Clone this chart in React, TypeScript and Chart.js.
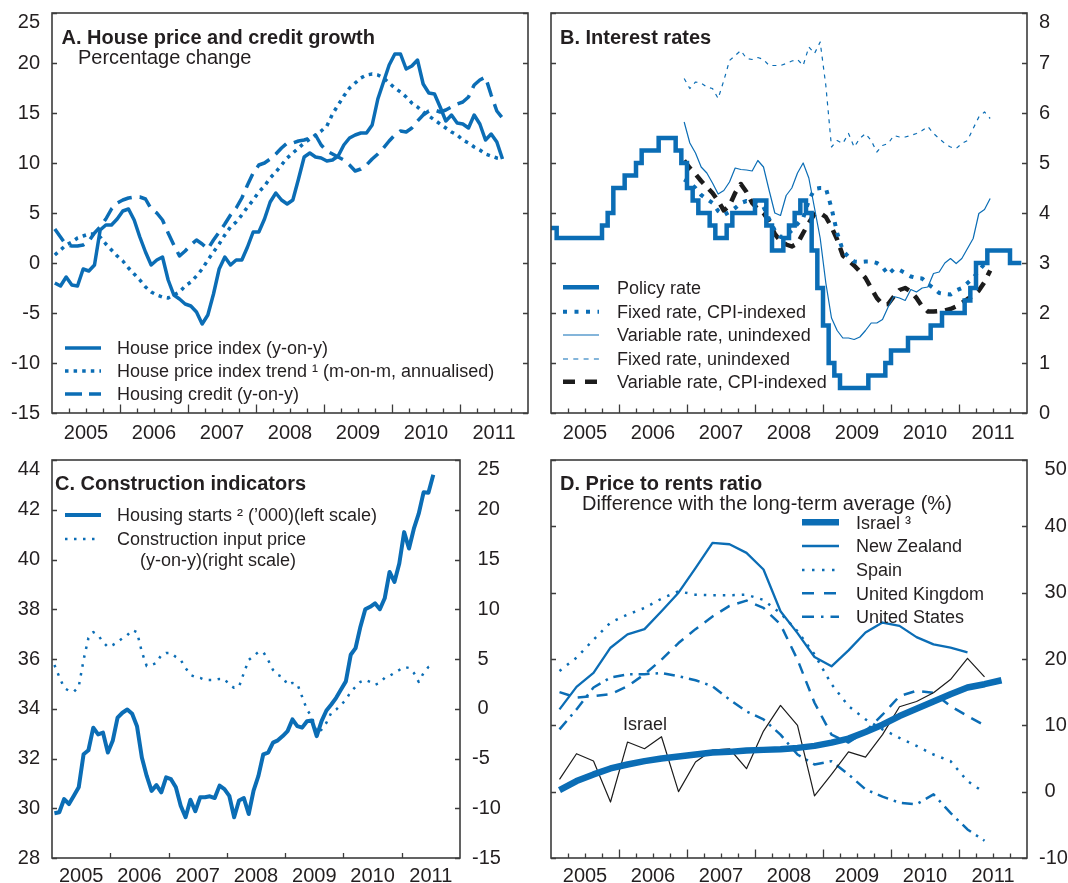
import React, { useEffect, useRef } from 'react';
import { Chart, registerables } from 'chart.js';

Chart.register(...registerables);

const BLUE = '#0b6db5';
const INK = '#231f20';
const FRAME = '#3c3c3c';
const FONT = '"Liberation Sans", Arial, Helvetica, sans-serif';

const YEARS = [2005, 2006, 2007, 2008, 2009, 2010, 2011];
const X_MIN = 2005;
const X_MAX = 2012;

// ---------- Panel A: monthly, Jan 2005 - Aug 2011 ----------
const housePriceYoY = [
  -2, -2.3, -1.4, -2.2, -2.3, -0.6, -0.8, -0.2, 3.3, 3.8, 3.8, 4.4,
  5.2, 5.4, 4.3, 2.6, 1.1, -0.2, 0.3, 0.6, -1.7, -3.2, -3.6, -4.1,
  -4.3, -4.9, -6.1, -5.2, -3.1, -0.6, 0.6, -0.2, 0.3, 0.3, 1.6, 3.1,
  3.1, 4.4, 6.1, 7, 6.3, 5.9, 6.3, 8.4, 10.6, 11, 10.6, 10.5,
  10.2, 10.3, 10.7, 11.8, 12.5, 12.8, 13, 13, 13.8, 16.4, 18.1, 19.8,
  20.9, 20.9, 19.4, 19.7, 20.3, 17.9, 17, 16.9, 15.6, 14.2, 14.8, 14,
  13.9, 13.5, 14.8, 13.9, 12.3, 12.9, 12.1, 10.4,
];
const housePriceTrend = [
  0.8, 1.3, 1.8, 2.1, 2.5, 2.7, 2.9, 2.9, 2.6, 1.9, 1.3, 0.7,
  0.2, -0.5, -1.1, -1.7, -2.4, -2.9, -3.2, -3.4, -3.5, -3.2, -2.9, -2.3,
  -1.9, -1.3, -0.6, 0.3, 1.1, 1.9, 2.8, 3.6, 4.1, 4.8, 5.6, 6.3,
  7.1, 7.7, 8.5, 9.1, 9.8, 10.5, 11, 11.5, 12, 12.4, 12.8, 13.2,
  13.7, 14.9, 15.8, 16.7, 17.5, 18, 18.5, 18.8, 18.9, 18.8, 18.5, 18,
  17.5, 17.1, 16.6, 16, 15.6, 15.1, 14.7, 14.3, 13.9, 13.5, 13.1, 12.8,
  12.3, 12, 11.6, 11.3, 10.9, 10.7, 10.5, 10.4,
];
const housingCredit = [
  3.4, 2.6, 1.8, 1.7, 1.7, 1.8, 2.2, 3.0, 3.6, 4.4, 5.4, 6.0,
  6.3, 6.5, 6.6, 6.6, 6.4, 5.4, 5.0, 4.3, 3.0, 1.8, 0.7, 1.2,
  1.8, 2.3, 1.9, 1.4, 2.3, 3.1, 3.9, 4.8, 5.5, 6.5, 7.8, 9.0,
  9.8, 10.0, 10.4, 10.9, 11.5, 12.0, 12.0, 12.2, 12.3, 12.5, 12.8, 11.8,
  11.2, 10.9, 10.6, 10.3, 9.8, 9.2, 9.4, 9.8, 10.4, 10.9, 11.5, 12.2,
  12.8, 13.2, 13.1, 13.5, 14.2, 14.8, 15.2, 15.3, 15.1, 15.3, 15.6, 15.9,
  16.1, 16.6, 17.8, 18.3, 18.6, 16.8, 15.2, 14.5,
];

// ---------- Panel B: interest rates ----------
// policy rate: value set at the start of each month from Jan 2005 (last entry closes the step)
const policyRate = [
  3.7, 3.5, 3.5, 3.5, 3.5, 3.5, 3.5, 3.5, 3.5, 3.75, 4.0, 4.5,
  4.5, 4.75, 4.75, 5.0, 5.25, 5.25, 5.25, 5.5, 5.5, 5.5, 5.25, 5.0,
  4.5, 4.25, 4.0, 4.0, 3.75, 3.5, 3.5, 3.75, 4.0, 4.0, 4.0, 4.0,
  4.25, 4.25, 3.75, 3.25, 3.25, 3.5, 3.75, 4.0, 4.25, 4.0, 3.25, 2.5,
  1.75, 1.0, 0.75, 0.5, 0.5, 0.5, 0.5, 0.5, 0.75, 0.75, 0.75, 1.0,
  1.25, 1.25, 1.25, 1.5, 1.5, 1.5, 1.5, 1.75, 1.75, 2.0, 2.0, 2.0,
  2.0, 2.25, 2.5, 3.0, 3.0, 3.25, 3.25, 3.25, 3.25, 3.0, 3.0, 3.0,
];
const mortgageStartMonth = 23; // Dec 2006
const fixedCpiIndexed = [
  4.67, 4.6, 4.5, 4.36, 4.28, 4.2, 4.04, 3.96, 4.02, 4.1,
  4.2, 4.24, 4.22, 4.19, 4.12, 3.88, 3.65, 3.52, 3.55, 3.65,
  3.78, 3.9, 4.25, 4.48, 4.5, 4.5, 4.1, 3.6, 3.25, 3.12,
  3.03, 3.02, 3.03, 3.03, 3.0, 2.92, 2.77, 2.88, 2.86, 2.8,
  2.73, 2.7, 2.69, 2.58, 2.5, 2.4, 2.38, 2.37, 2.45, 2.5,
  2.6, 2.7, 2.85, 2.98,
];
const variableUnindexed = [
  5.82, 5.4, 5.2, 4.92, 4.8, 4.6, 4.38, 4.45, 4.62, 4.9,
  4.87, 4.86, 4.84, 5.05, 4.92, 4.45, 4.0, 3.95, 4.35, 4.5,
  4.8, 5.0, 4.7, 4.1, 3.5, 2.6, 1.9, 1.65, 1.5, 1.5,
  1.47, 1.52, 1.65, 1.8, 1.8, 1.87, 2.12, 2.33, 2.3, 2.25,
  2.47, 2.42, 2.5, 2.52, 2.79, 2.82, 3.0, 3.09, 2.99, 3.09,
  3.29, 3.49, 3.99, 4.07, 4.29,
];
const fixedUnindexed = [
  6.69, 6.49, 6.62, 6.6, 6.52, 6.49, 6.29, 6.65, 7.05, 7.15,
  7.25, 7.09, 7.07, 7.11, 7.07, 6.95, 6.95, 6.95, 6.99, 7.04,
  7.07, 6.95, 7.32, 7.19, 7.42, 6.55, 5.32, 5.45, 5.39, 5.59,
  5.32, 5.49, 5.59, 5.45, 5.22, 5.35, 5.39, 5.55, 5.52, 5.52,
  5.55, 5.59, 5.65, 5.73, 5.59, 5.49, 5.39, 5.32, 5.29, 5.39,
  5.45, 5.69, 5.92, 6.02, 5.89,
];
const variableCpiIndexed = [
  5.05, 4.9, 4.78, 4.64, 4.52, 4.4, 4.24, 4.05, 4.15, 4.4,
  4.58, 4.42, 4.2, 4.08, 4.0, 3.83, 3.58, 3.44, 3.37, 3.33,
  3.39, 3.6, 3.8, 3.98, 4.0, 3.92, 3.72, 3.47, 3.15, 3.05,
  2.95, 2.83, 2.7, 2.5, 2.3, 2.17, 2.18, 2.33, 2.46, 2.5,
  2.43, 2.3, 2.13, 2.03, 2.03, 2.04, 2.05, 2.08, 2.13, 2.2,
  2.28, 2.35, 2.45, 2.62, 2.85,
];

// ---------- Panel C: construction, monthly Jan 2005 - Jul 2011 ----------
const housingStarts = [
  29.8, 29.84, 30.37, 30.17, 30.5, 30.84, 32.17, 32.33, 33.24, 32.97, 33.04, 32.24,
  32.71, 33.64, 33.84, 33.97, 33.8, 33.3, 32.04, 31.3, 30.7, 30.93, 30.64, 31.24,
  31.17, 30.84, 30.1, 29.64, 30.34, 29.88, 30.44, 30.44, 30.48, 30.41, 30.91, 30.77,
  30.5, 29.64, 30.31, 30.41, 29.77, 30.71, 31.3, 32.17, 32.24, 32.64, 32.73, 32.9,
  33.1, 33.57, 33.3, 33.24, 33.5, 33.53, 32.9, 33.5, 33.93, 34.17, 34.44, 34.77,
  35.1, 36.17, 36.44, 37.3, 38.0, 38.1, 38.24, 38.0, 38.44, 39.5, 39.1, 39.84,
  41.1, 40.44, 41.24, 41.84, 42.7, 42.68, 43.41,
];
const constructionInputPrice = [
  4.4, 3.2, 2.1, 1.8, 1.7, 2.2, 4.9, 7.1, 7.7, 7.4, 6.7, 6.2,
  6.4, 6.7, 7.1, 7.4, 7.9, 7.7, 5.7, 4.3, 4.4, 4.6, 5.4, 5.6,
  5.6, 5.2, 4.9, 4.1, 3.4, 3.2, 3.1, 2.9, 2.9, 2.9, 3.0, 3.0,
  2.4, 2.1, 2.2, 3.6, 4.9, 5.3, 5.7, 5.7, 4.9, 3.9, 3.4, 3.2,
  2.4, 2.6, 2.5, 1.2, -0.1, -0.8, -2.4, -2.1, -1.4, -0.4, -0.1, 0.4,
  0.9, 1.7, 2.2, 2.7, 2.9, 2.7, 2.4, 2.6, 3.1, 3.3, 3.6, 3.9,
  4.2, 4.1, 3.6, 2.7, 3.6, 4.2, 4.5,
];

// ---------- Panel D: price to rents, quarterly from Q1 2005 ----------
const israelTrend = [
  0.25, 1.6, 2.6, 3.5, 4.1, 4.6, 5.0, 5.3, 5.6, 5.9, 6.0, 6.2, 6.3, 6.4,
  6.6, 6.9, 7.4, 8.0, 9.0, 10.1, 11.4, 12.5, 13.6, 14.7, 15.7, 16.2, 16.8,
];
const israelActual = [
  1.86, 5.72, 4.62, -1.56, 7.48, 6.47, 8.28, 0, 4.47, 6.27, 6.47, 3.46, 9.13,
  13.0, 9.98, -0.65, 2.6, 6.0, 5.2, 8.6, 12.8, 13.6, 14.9, 16.9, 20.1, 17.3,
];
const newZealand = [
  12.4, 15.8, 17.9, 21.7, 23.7, 24.5, 27.2, 30.0, 33.7, 37.5, 37.3, 36.0, 33.5,
  27.2, 23.9, 20.3, 18.9, 21.3, 24.0, 25.5, 25.0, 23.3, 22.2, 21.7, 21.0,
];
const spain = [
  18.2, 20.2, 22.9, 25.5, 26.7, 27.7, 29.1, 30.2, 29.7, 29.6, 29.6, 29.7, 28.9,
  26.9, 24.2, 20.7, 16.2, 12.9, 10.9, 9.4, 8.1, 6.9, 5.6, 4.6, 1.6, -0.15,
];
const unitedKingdom = [
  15.0, 14.2, 14.4, 14.7, 15.9, 17.7, 19.9, 22.4, 24.5, 26.4, 28.0, 28.8, 27.7,
  25.2, 19.9, 13.4, 8.6, 7.4, 9.1, 11.6, 14.4, 15.2, 14.9, 12.9, 11.4, 10.0,
];
const unitedStates = [
  9.4, 12.4, 15.7, 17.2, 17.7, 17.7, 17.9, 17.4, 16.8, 15.9, 13.9, 12.1, 10.9,
  8.6, 5.6, 4.1, 4.6, 2.6, 0.35, -0.75, -1.66, -1.9, -0.4, -3.2, -5.7, -7.4,
];

// ---------- helpers ----------
const monthly = (vals: number[], start = 0) =>
  vals.map((y, i) => ({ x: X_MIN + (start + i + 0.5) / 12, y }));
const monthStarts = (vals: number[]) => vals.map((y, i) => ({ x: X_MIN + i / 12, y }));
const quarterly = (vals: number[]) => vals.map((y, i) => ({ x: X_MIN + (i + 0.5) / 4, y }));

const plain = (v: number) => String(v);
const hanging = (v: number) => (v < 0 ? '-' + Math.abs(v) : '\u2008' + v);

Chart.defaults.font.family = FONT;

const framePlugin = {
  id: 'frame',
  afterDatasetsDraw(chart: any, _args: any, opts: any) {
    const { ctx, chartArea } = chart;
    const { left, right, top, bottom } = chartArea;
    ctx.save();
    ctx.strokeStyle = FRAME;
    ctx.lineWidth = 1.3;
    ctx.beginPath();
    const xs = chart.scales.x;
    const n = (X_MAX - X_MIN) * 4;
    for (let q = 1; q < n; q++) {
      const isYear = q % 4 === 0;
      if (!isYear && !opts.quarterTicks) continue;
      const px = Math.round(xs.getPixelForValue(X_MIN + q / 4)) + 0.5;
      const len = isYear ? opts.yearTick : opts.quarterTick;
      ctx.moveTo(px, bottom);
      ctx.lineTo(px, bottom - len);
    }
    const ys = chart.scales[opts.yScale];
    ys.ticks.forEach((t: any) => {
      const py = Math.round(ys.getPixelForValue(t.value)) + 0.5;
      ctx.moveTo(left, py);
      ctx.lineTo(left + 5, py);
      ctx.moveTo(right, py);
      ctx.lineTo(right - 5, py);
    });
    ctx.stroke();
    ctx.lineWidth = 1.6;
    ctx.strokeRect(left, top, right - left, bottom - top);
    ctx.restore();
  },
};

function xScale(padding: number, height: number) {
  return {
    type: 'linear',
    min: X_MIN,
    max: X_MAX,
    afterBuildTicks: (s: any) => {
      s.ticks = YEARS.map((y) => ({ value: y + 0.5 }));
    },
    afterFit: (s: any) => {
      s.height = height;
      s.paddingLeft = 0;
      s.paddingRight = 0;
    },
    grid: { display: false, drawTicks: false },
    border: { display: false },
    ticks: {
      autoSkip: false,
      maxRotation: 0,
      minRotation: 0,
      padding,
      color: INK,
      font: { family: FONT, size: 20 },
      callback: (v: number) => String(Math.floor(v)),
    },
  };
}

function yScale(position: string, min: number, max: number, step: number, width: number, fmt: (v: number) => string) {
  return {
    type: 'linear',
    position,
    min,
    max,
    grid: { display: false, drawTicks: false },
    border: { display: false },
    afterFit: (s: any) => {
      s.width = width;
      s.paddingTop = 0;
      s.paddingBottom = 0;
    },
    ticks: {
      stepSize: step,
      autoSkip: false,
      padding: 12,
      color: INK,
      font: { family: FONT, size: 20, lineHeight: 0.95 },
      callback: (v: number, i: number, ticks: any[]) => {
        const s = fmt(v);
        return i === ticks.length - 1 ? ['', s] : s;
      },
    },
  };
}

function baseOptions(padding: any, scales: any, frame: any) {
  return {
    animation: false,
    responsive: false,
    maintainAspectRatio: false,
    devicePixelRatio: 1,
    events: [],
    layout: { padding },
    elements: { point: { radius: 0 }, line: { tension: 0, borderJoinStyle: 'round' } },
    plugins: { legend: { display: false }, tooltip: { enabled: false }, frame },
    scales,
  };
}

function line(data: any[], color: string, width: number, dash: number[] = [], extra: any = {}) {
  return {
    data,
    borderColor: color,
    backgroundColor: color,
    borderWidth: width,
    borderDash: dash,
    fill: false,
    pointRadius: 0,
    ...extra,
  };
}

const buildA = () => ({
  type: 'line',
  data: {
    datasets: [
      line(monthly(housePriceYoY), BLUE, 3.5),
      line(monthly(housePriceTrend), BLUE, 3.5, [3.5, 5]),
      line(monthly(housingCredit), BLUE, 3.5, [15, 8]),
    ],
  },
  options: baseOptions(
    { left: 0, top: 13, right: 12, bottom: 0 },
    { x: xScale(8, 27), y: yScale('left', -15, 25, 5, 52, plain) },
    { quarterTicks: true, yearTick: 8.5, quarterTick: 4.5, yScale: 'y' }
  ),
  plugins: [framePlugin],
});

const buildB = () => ({
  type: 'line',
  data: {
    datasets: [
      line(monthStarts(policyRate), BLUE, 4.5, [], { stepped: true, borderJoinStyle: 'miter' }),
      line(monthly(fixedCpiIndexed, mortgageStartMonth), BLUE, 4, [4, 7]),
      line(monthly(variableUnindexed, mortgageStartMonth), BLUE, 1.2),
      line(monthly(fixedUnindexed, mortgageStartMonth), BLUE, 1.2, [4, 5]),
      line(monthly(variableCpiIndexed, mortgageStartMonth), '#1c1c1c', 4.5, [11, 8]),
    ],
  },
  options: baseOptions(
    { left: 11, top: 13, right: 0, bottom: 0 },
    { x: xScale(8, 27), y: yScale('right', 0, 8, 1, 41, plain) },
    { quarterTicks: true, yearTick: 8.5, quarterTick: 4.5, yScale: 'y' }
  ),
  plugins: [framePlugin],
});

const buildC = () => ({
  type: 'line',
  data: {
    datasets: [
      line(monthly(housingStarts), BLUE, 4, [], { yAxisID: 'y' }),
      line(monthly(constructionInputPrice), BLUE, 2.5, [2.5, 6.5], { yAxisID: 'y2' }),
    ],
  },
  options: baseOptions(
    { left: 0, top: 20, right: 0, bottom: 0 },
    {
      x: xScale(6.5, 25),
      y: yScale('left', 28, 44, 2, 52, plain),
      y2: yScale('right', -15, 25, 5, 80, hanging),
    },
    { quarterTicks: false, yearTick: 5, quarterTick: 0, yScale: 'y' }
  ),
  plugins: [framePlugin],
});

const buildD = () => ({
  type: 'line',
  data: {
    datasets: [
      line(quarterly(israelTrend), BLUE, 6.5),
      line(quarterly(israelActual), '#1c1c1c', 1.2),
      line(quarterly(newZealand), BLUE, 2.3),
      line(quarterly(spain), BLUE, 2.5, [2.5, 7]),
      line(quarterly(unitedKingdom), BLUE, 2.5, [11, 8]),
      line(quarterly(unitedStates), BLUE, 2.5, [11, 6, 2.5, 6]),
    ],
  },
  options: baseOptions(
    { left: 11, top: 20, right: 0, bottom: 0 },
    { x: xScale(6.5, 25), y: yScale('right', -10, 50, 10, 41, hanging) },
    { quarterTicks: true, yearTick: 8.5, quarterTick: 4.5, yScale: 'y' }
  ),
  plugins: [framePlugin],
});

function ChartCanvas({ left, top, width, height, build }: any) {
  const ref = useRef<HTMLCanvasElement | null>(null);
  useEffect(() => {
    const chart = new Chart(ref.current as HTMLCanvasElement, build() as any);
    return () => chart.destroy();
  }, []);
  return (
    <canvas
      ref={ref}
      width={width}
      height={height}
      style={{ position: 'absolute', left, top, width, height }}
    />
  );
}

function Sample({ x, y, w, color = BLUE, width, dash }: any) {
  return (
    <line
      x1={x}
      x2={x + w}
      y1={y}
      y2={y}
      stroke={color}
      strokeWidth={width}
      strokeDasharray={dash}
    />
  );
}

function T({ x, y, size = 18, bold = false, children }: any) {
  return (
    <text x={x} y={y} fontSize={size} fontWeight={bold ? 'bold' : 'normal'} fill={INK} fontFamily={FONT}>
      {children}
    </text>
  );
}

export default function App() {
  return (
    <div style={{ position: 'absolute', left: 0, top: 0, width: 1068, height: 883, background: '#ffffff', overflow: 'hidden' }}>
      <ChartCanvas left={0} top={0} width={540} height={440} build={buildA} />
      <ChartCanvas left={540} top={0} width={528} height={440} build={buildB} />
      <ChartCanvas left={0} top={440} width={540} height={443} build={buildC} />
      <ChartCanvas left={540} top={440} width={528} height={443} build={buildD} />
      <svg width={1068} height={883} style={{ position: 'absolute', left: 0, top: 0, pointerEvents: 'none' }}>
        {/* Panel A */}
        <T x={61.5} y={44} size={20} bold>A. House price and credit growth</T>
        <T x={78} y={63.5} size={20}>Percentage change</T>
        <Sample x={65} y={348} w={36} width={3.5} />
        <Sample x={65} y={371} w={36} width={3.5} dash="3.5 5.1" />
        <Sample x={65} y={394} w={36} width={3.5} dash="17 7" />
        <T x={117} y={354.4}>House price index (y-on-y)</T>
        <T x={117} y={377.4}>House price index trend ¹ (m-on-m, annualised)</T>
        <T x={117} y={400.4}>Housing credit (y-on-y)</T>

        {/* Panel B */}
        <T x={560} y={43.5} size={20} bold>B. Interest rates</T>
        <Sample x={563} y={287.3} w={36} width={4.5} />
        <Sample x={563} y={311.7} w={36} width={4} dash="4 7.5" />
        <Sample x={563} y={335} w={36} width={1.2} />
        <Sample x={563} y={359} w={36} width={1.2} dash="5 5.3" />
        <Sample x={563} y={381.7} w={36} width={4.5} color="#1c1c1c" dash="12 10" />
        <T x={617} y={293.7}>Policy rate</T>
        <T x={617} y={318}>Fixed rate, CPI-indexed</T>
        <T x={617} y={341.4}>Variable rate, unindexed</T>
        <T x={617} y={365.4}>Fixed rate, unindexed</T>
        <T x={617} y={388}>Variable rate, CPI-indexed</T>

        {/* Panel C */}
        <T x={55} y={490} size={20} bold>C. Construction indicators</T>
        <Sample x={65} y={515} w={36} width={4} />
        <Sample x={65} y={539} w={36} width={2.5} dash="2.5 6.5" />
        <T x={117} y={521.4}>Housing starts ² (’000)(left scale)</T>
        <T x={117} y={545.4}>Construction input price</T>
        <T x={140} y={566}>(y-on-y)(right scale)</T>

        {/* Panel D */}
        <T x={560} y={490} size={20} bold>D. Price to rents ratio</T>
        <T x={582} y={510} size={20}>Difference with the long-term average (%)</T>
        <Sample x={802} y={522.3} w={37} width={6.5} />
        <Sample x={802} y={546} w={37} width={2.3} />
        <Sample x={802} y={570} w={37} width={2.5} dash="2.5 7.5" />
        <Sample x={802} y={593.3} w={37} width={2.5} dash="12 10" />
        <Sample x={802} y={616.7} w={37} width={2.5} dash="12 7 2.5 7" />
        <T x={856} y={528.7}>Israel ³</T>
        <T x={856} y={552.4}>New Zealand</T>
        <T x={856} y={576.4}>Spain</T>
        <T x={856} y={599.7}>United Kingdom</T>
        <T x={856} y={623.1}>United States</T>
        <T x={623} y={730.4}>Israel</T>
      </svg>
    </div>
  );
}
